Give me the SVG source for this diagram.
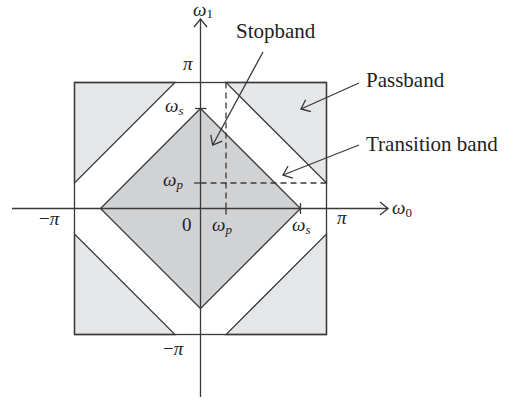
<svg xmlns="http://www.w3.org/2000/svg" width="514" height="404" viewBox="0 0 514 404">
<defs>
<marker id="open" markerUnits="userSpaceOnUse" markerWidth="20" markerHeight="20" refX="10" refY="10" orient="auto">
<path d="M2,3.5 L10,10 L2,16.5" fill="none" stroke="#333" stroke-width="1.3"/>
</marker>
</defs>
<style>
.ln{stroke:#3a3a3a;stroke-width:1.3;fill:none}
.pass{fill:#e6e7e8;stroke:#3a3a3a;stroke-width:1.3}
.stop{fill:#d1d2d4;stroke:#3a3a3a;stroke-width:1.3}
.dash{stroke:#3a3a3a;stroke-width:1.3;fill:none;stroke-dasharray:6,4}
.lbl{font-family:"Liberation Serif",serif;font-size:21px;fill:#222}
.m{font-family:"Liberation Serif",serif;font-style:italic;font-size:19px;fill:#222}
.n{font-family:"Liberation Serif",serif;font-size:19px;fill:#222}
.sub{font-size:13px}
</style>
<rect width="514" height="404" fill="#fff"/>
<g id="passband">
<polygon class="pass" points="74.5,82.5 175,82.5 74.5,183"/>
<polygon class="pass" points="326.5,82.5 226,82.5 326.5,183"/>
<polygon class="pass" points="74.5,334.5 175,334.5 74.5,234"/>
<polygon class="pass" points="326.5,334.5 226,334.5 326.5,234"/>
<rect class="ln" x="74.5" y="82.5" width="252" height="252"/>
</g>
<g id="stopband">
<polygon class="stop" points="200.5,108.5 300.5,208.5 200.5,308.5 100.5,208.5"/>
</g>
<g id="dashes">
<path class="dash" d="M226,82.5 V208.5"/>
<path class="dash" d="M200.5,183 H326.5"/>
</g>
<g id="axes">
<path class="ln" d="M12,208.5 H388" marker-end="url(#open)"/>
<path class="ln" d="M200.5,397 V19" marker-end="url(#open)"/>
<path class="ln" d="M195,108.5 H206.5"/>
<path class="ln" d="M194,183 H200.5"/>
<path class="ln" d="M226,208.5 V214.5"/>
<path class="ln" d="M300.5,203 V214"/>
</g>
<g id="connectors">
<path class="ln" d="M263,52 L212.7,145" marker-end="url(#open)"/>
<path class="ln" d="M359,83 L301,109" marker-end="url(#open)"/>
<path class="ln" d="M359,145 L283,175" marker-end="url(#open)"/>
</g>
<g id="labels">
<text class="lbl" x="236" y="38">Stopband</text>
<text class="lbl" x="366" y="87">Passband</text>
<text class="lbl" x="366" y="151">Transition band</text>
</g>
<g id="ticks-text">
<text class="m" x="193" y="16" font-size="18">ω<tspan class="sub" font-style="normal" dy="2">1</tspan></text>
<text class="m" x="183" y="70">π</text>
<text class="m" x="165" y="112">ω<tspan class="sub" dy="3">s</tspan></text>
<text class="m" x="163" y="186">ω<tspan class="sub" dy="3">p</tspan></text>
<text class="m" x="39" y="225"><tspan font-style="normal">−</tspan>π</text>
<text class="n" x="182" y="231">0</text>
<text class="m" x="212" y="231">ω<tspan class="sub" dy="3">p</tspan></text>
<text class="m" x="292" y="231">ω<tspan class="sub" dy="3">s</tspan></text>
<text class="m" x="337" y="224">π</text>
<text class="m" x="392" y="214">ω<tspan class="sub" font-style="normal" dy="3">0</tspan></text>
<text class="m" x="163" y="355"><tspan font-style="normal">−</tspan>π</text>
</g>
</svg>
